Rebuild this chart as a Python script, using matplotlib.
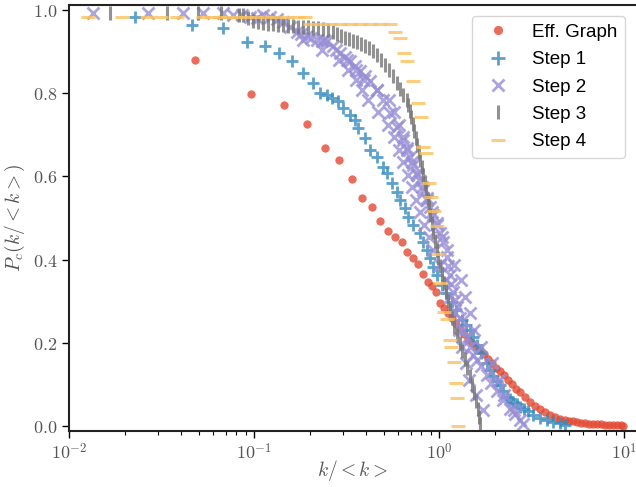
import matplotlib
matplotlib.use('Agg')
import matplotlib.pyplot as plt

plt.rcParams['mathtext.fontset'] = 'cm'

# complementary cumulative degree distributions
eff_x = [0.048, 0.096, 0.144, 0.192, 0.240, 0.288, 0.336, 0.384, 0.433, 0.481, 0.529,
         0.577, 0.625, 0.673, 0.721, 0.769, 0.817, 0.865, 0.913, 0.962, 1.010,
         1.060, 1.114, 1.171, 1.231, 1.294, 1.360, 1.429, 1.503, 1.579, 1.660,
         1.745, 1.834, 1.928, 2.026, 2.129, 2.238, 2.352, 2.472, 2.598, 2.731,
         2.906, 3.093, 3.291, 3.502, 3.727, 3.966, 4.220, 4.492, 4.781, 5.025,
         5.281, 5.550, 5.833, 6.132, 6.443, 6.772, 7.117, 7.483, 7.864, 8.264,
         8.685, 9.130, 9.598, 9.84]
eff_y = [0.880, 0.798, 0.772, 0.726, 0.668, 0.639, 0.594, 0.548, 0.526, 0.493, 0.469,
         0.454, 0.442, 0.418, 0.404, 0.389, 0.365, 0.346, 0.337, 0.322, 0.296,
         0.284, 0.272, 0.260, 0.245, 0.233, 0.221, 0.209, 0.200, 0.190, 0.183,
         0.173, 0.161, 0.151, 0.139, 0.132, 0.123, 0.111, 0.101, 0.089, 0.082,
         0.070, 0.058, 0.048, 0.041, 0.033, 0.026, 0.021, 0.017, 0.014, 0.012,
         0.011, 0.009, 0.008, 0.007, 0.006, 0.005, 0.0045, 0.004, 0.0035, 0.003,
         0.0025, 0.002, 0.0015, 0.001]

s1_x = [0.0226, 0.0459, 0.0679, 0.0910, 0.1143, 0.1365, 0.1592, 0.184, 0.207, 0.2265,
        0.246, 0.262, 0.284, 0.303, 0.329, 0.350, 0.365, 0.396, 0.422, 0.459,
        0.498, 0.520, 0.553, 0.589, 0.614, 0.653, 0.680, 0.723, 0.7866, 0.8194,
        0.8549, 0.8906, 0.9281, 0.9718, 1.030, 1.087, 1.167, 1.231, 1.322, 1.394,
        1.465, 1.521, 1.593, 1.681, 1.804, 1.880, 1.959, 2.051, 2.129, 2.210,
        2.314, 2.411, 2.512, 2.630, 2.731, 2.870, 3.017, 3.222, 3.502, 3.807,
        4.118, 4.492, 4.781]
s1_y = [0.983, 0.964, 0.956, 0.923, 0.912, 0.897, 0.876, 0.849, 0.825, 0.800,
        0.796, 0.788, 0.780, 0.764, 0.748, 0.736, 0.716, 0.692, 0.663, 0.647,
        0.623, 0.607, 0.583, 0.563, 0.543, 0.523, 0.503, 0.483, 0.463, 0.442,
        0.423, 0.404, 0.383, 0.363, 0.339, 0.320, 0.299, 0.279, 0.255, 0.243,
        0.231, 0.214, 0.195, 0.175, 0.151, 0.135, 0.119, 0.108, 0.099, 0.084,
        0.070, 0.065, 0.058, 0.053, 0.046, 0.041, 0.035, 0.026, 0.020, 0.014,
        0.010, 0.0065, 0.0024]

s2_x = [0.01348, 0.02673, 0.04131, 0.0530, 0.0680, 0.0770, 0.0855, 0.0948, 0.1030, 0.1114,
        0.1216, 0.1327, 0.1435, 0.1560, 0.1695, 0.1788, 0.1920, 0.2025, 0.2174, 0.2322,
        0.2463, 0.2673, 0.2904, 0.3091, 0.3290, 0.3501, 0.3726, 0.3965, 0.4220, 0.4587,
        0.4981, 0.5414, 0.5884, 0.6389, 0.6666, 0.6944, 0.7208, 0.7548, 0.7866, 0.8194,
        0.8580, 0.8906, 0.9245, 0.9681, 1.009, 1.051, 1.096, 1.121, 1.142, 1.164,
        1.186, 1.216, 1.242, 1.294, 1.348, 1.406, 1.465, 1.521, 1.593, 1.681,
        1.804, 1.904, 2.044, 2.210, 2.411, 2.566, 2.731, 2.835]
s2_y = [0.9935, 0.9935, 0.9935, 0.992, 0.992, 0.988, 0.988, 0.984, 0.980, 0.988,
        0.984, 0.978, 0.972, 0.959, 0.948, 0.942, 0.936, 0.933, 0.928, 0.925,
        0.924, 0.912, 0.896, 0.887, 0.876, 0.865, 0.852, 0.841, 0.828, 0.808,
        0.784, 0.752, 0.719, 0.688, 0.668, 0.647, 0.627, 0.607, 0.589, 0.567,
        0.548, 0.527, 0.507, 0.487, 0.464, 0.442, 0.407, 0.385, 0.363, 0.341,
        0.322, 0.303, 0.287, 0.260, 0.231, 0.212, 0.191, 0.171, 0.159, 0.144,
        0.123, 0.103, 0.084, 0.0625, 0.041, 0.029, 0.0144, 0.005]
# Step 2 is noisy: extra marks along the left and right edges of its band
s2_edge_y = [0.928, 0.904, 0.880, 0.856, 0.832, 0.808, 0.784, 0.755, 0.724, 0.695,
             0.663, 0.635, 0.603, 0.575, 0.543, 0.514, 0.483, 0.454, 0.423, 0.387,
             0.351, 0.310, 0.272, 0.231, 0.190, 0.151, 0.111, 0.0745, 0.0385]
s2_left_x = [0.1833, 0.2322, 0.2870, 0.3209, 0.3546, 0.3822, 0.4117, 0.4662, 0.5283, 0.5692,
             0.6057, 0.6366, 0.6775, 0.7121, 0.7484, 0.7866, 0.8266, 0.8795, 0.9245, 1.009,
             1.087, 1.142, 1.216, 1.278, 1.327, 1.394, 1.448, 1.579, 1.723]
s2_right_x = [0.2381, 0.2765, 0.3170, 0.3546, 0.3917, 0.4604, 0.5349, 0.5692, 0.6057, 0.6366,
              0.6690, 0.7121, 0.7579, 0.8062, 0.8580, 0.9131, 0.9718, 1.034, 1.100, 1.201,
              1.310, 1.377, 1.464, 1.541, 1.681, 1.920, 2.095, 2.237, 2.534]

s3_x = [0.01660, 0.03362, 0.04985, 0.0661, 0.0827, 0.0872, 0.0924, 0.0984, 0.1047, 0.1114,
        0.1186, 0.1262, 0.1343, 0.1429, 0.1521, 0.1619, 0.1723, 0.1833, 0.1951, 0.2077,
        0.2210, 0.2351, 0.2502, 0.2663, 0.2799, 0.2941, 0.3091, 0.3249, 0.3415, 0.3590,
        0.3774, 0.3965, 0.4169, 0.4381, 0.4604, 0.4841, 0.5088, 0.5349, 0.5622, 0.5908,
        0.6133, 0.6366, 0.6666, 0.6775, 0.6903, 0.7033, 0.7165, 0.7300, 0.7439, 0.7579,
        0.7722, 0.7866, 0.8014, 0.8164, 0.8318, 0.8475, 0.8635, 0.8795, 0.8962, 0.9131,
        0.9302, 0.9480, 0.9658, 0.9840, 1.009, 1.034, 1.060, 1.087, 1.114, 1.142,
        1.171, 1.208, 1.247, 1.286, 1.327, 1.369, 1.412, 1.457, 1.503, 1.541,
        1.579, 1.609, 1.639, 1.660]
s3_y = [0.992, 0.992, 0.992, 0.992, 0.988, 0.988, 0.981, 0.974, 0.970, 0.968,
        0.966, 0.965, 0.964, 0.963, 0.962, 0.962, 0.960, 0.959, 0.958, 0.957,
        0.956, 0.954, 0.952, 0.947, 0.942, 0.938, 0.933, 0.929, 0.925, 0.922,
        0.918, 0.913, 0.909, 0.901, 0.892, 0.880, 0.868, 0.856, 0.841, 0.825,
        0.810, 0.796, 0.784, 0.772, 0.757, 0.743, 0.726, 0.709, 0.692, 0.675,
        0.659, 0.639, 0.623, 0.603, 0.584, 0.565, 0.546, 0.526, 0.507, 0.488,
        0.466, 0.445, 0.423, 0.404, 0.385, 0.365, 0.344, 0.322, 0.300, 0.279,
        0.260, 0.238, 0.219, 0.200, 0.180, 0.161, 0.139, 0.120, 0.0986, 0.079,
        0.060, 0.041, 0.022, 0.005]

s4_x = [0.01267, 0.0192, 0.0263, 0.0313, 0.0380, 0.0528, 0.0583, 0.0645, 0.0721, 0.0806,
        0.0902, 0.1021, 0.1157, 0.1310, 0.1503, 0.1723, 0.1880,
        0.2000, 0.2265, 0.2566, 0.2904, 0.3290, 0.3726, 0.4220, 0.4780, 0.5414,
        0.5727, 0.6133, 0.6445, 0.6690, 0.7208, 0.7626, 0.7943, 0.8164, 0.8475, 0.8795,
        0.9018, 0.9326, 0.9658, 0.9901, 1.015, 1.060, 1.100, 1.138, 1.156, 1.196,
        1.228, 1.254, 1.262]
s4_y = [0.984, 0.984, 0.984, 0.984, 0.984, 0.984, 0.984, 0.984, 0.984, 0.984,
        0.984, 0.984, 0.984, 0.984, 0.984, 0.984, 0.984,
        0.966, 0.966, 0.966, 0.966, 0.966, 0.966, 0.966, 0.966, 0.966,
        0.948, 0.932, 0.896, 0.878, 0.828, 0.776, 0.742, 0.671, 0.656, 0.585,
        0.551, 0.516, 0.481, 0.413, 0.344, 0.275, 0.258, 0.206, 0.189, 0.154,
        0.103, 0.068, 0.0]

xticks = [0.01, 0.1, 1, 10]
xtick_labels = [r'$10^{-2}$', r'$10^{-1}$', r'$10^{0}$', r'$10^{1}$']
yticks = [0.0, 0.2, 0.4, 0.6, 0.8, 1.0]
ytick_labels = [r'$0.0$', r'$0.2$', r'$0.4$', r'$0.6$', r'$0.8$', r'$1.0$']

fig = plt.figure(figsize=(6.36, 4.87), dpi=100)
ax = fig.add_axes([0.109, 0.115, 0.891, 0.875])

a = 0.8
ax.plot(eff_x, eff_y, 'o', color='#E24A33', ms=6, mew=0, alpha=a, label='Eff. Graph')
ax.plot(s1_x, s1_y, '+', color='#348ABD', ms=9, mew=2, alpha=a, label='Step 1')
purple = dict(color='#988ED5', ms=8.5, mew=2, alpha=a, ls='none')
ax.plot(s2_x, s2_y, marker='x', label='Step 2', **purple)
ax.plot(s2_left_x, s2_edge_y, marker='x', **purple)
ax.plot(s2_right_x, s2_edge_y, marker='x', **purple)
ax.plot(s3_x, s3_y, '|', color='#777777', ms=9.5, mew=2.2, alpha=a, label='Step 3')
ax.plot(s4_x, s4_y, '_', color='#FBC15E', ms=9.5, mew=2.2, alpha=a, label='Step 4')

ax.set_xscale('log')
ax.set_xlim(0.01, 11.57)
ax.set_ylim(-0.012, 1.012)
ax.set_xticks(xticks)
ax.set_xticklabels(xtick_labels)
ax.set_yticks(yticks)
ax.set_yticklabels(ytick_labels)
ax.tick_params(labelsize=13, labelcolor='#555555', direction='out')
ax.tick_params(which='major', length=5, width=1)
ax.tick_params(which='minor', length=3, width=0.8)

for s in ['left', 'bottom', 'top']:
    ax.spines[s].set_linewidth(1.5)
    ax.spines[s].set_color('#222222')
ax.spines['right'].set_visible(False)

ax.set_xlabel(r'$k/<k>$', fontsize=14, color='#555555', labelpad=-4)
ax.set_ylabel(r'$P_c(k/<k>)$', fontsize=14, color='#555555')

leg = ax.legend(loc='upper right', prop={'family': 'Liberation Sans', 'size': 13.5},
                edgecolor='#cccccc', fancybox=True, labelspacing=0.55,
                borderaxespad=0.6, markerscale=1.1)

plt.savefig('out.png', dpi=100)
